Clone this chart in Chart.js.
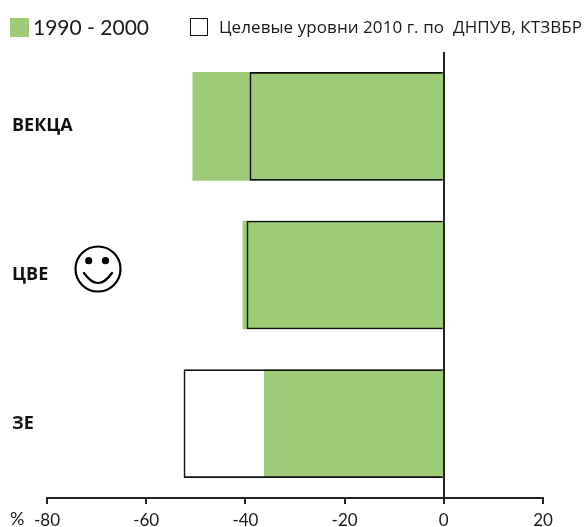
<!DOCTYPE html>
<html lang="ru">
<head>
<meta charset="UTF-8">
<title>Целевые уровни</title>
<style>
    body { margin: 0; background: #fff; }
    #wrap { position: relative; width: 584px; height: 527px; overflow: hidden; }
    canvas { position: absolute; left: 0; top: 0; }
    .txt { position: absolute; color: #1a1a1a; white-space: nowrap; }
    .swatch { position: absolute; box-sizing: border-box; }
</style>
<script src="https://cdn.jsdelivr.net/npm/chart.js"></script>
</head>
<body>
<div id="wrap">
    <canvas id="chart" width="584" height="527"></canvas>
    <div class="swatch" style="left:10px;top:18px;width:19px;height:19px;background:#9dcb78"></div>
    <div class="txt" style="left:33px;top:14px;font:21px Lato,sans-serif">1990 - 2000</div>
    <div class="swatch" style="left:190px;top:18px;width:18px;height:18px;border:1px solid #111"></div>
    <div class="txt" style="left:219px;top:15px;font:17px 'Open Sans',sans-serif;letter-spacing:.07px">Целевые уровни 2010 г. по&nbsp; ДНПУВ, КТЗВБР</div>
    <div class="txt" style="left:10px;top:507px;font:18px Lato,sans-serif">%</div>
    <svg style="position:absolute;left:74px;top:244px" width="50" height="50" viewBox="0 0 50 50">
        <circle cx="24" cy="25" r="22.5" fill="none" stroke="#000" stroke-width="2.2"/>
        <circle cx="14.7" cy="16.7" r="3.6" fill="#000"/>
        <circle cx="31.5" cy="16.7" r="3.6" fill="#000"/>
        <path d="M10 29 Q24 49 38 29" fill="none" stroke="#000" stroke-width="2.2" stroke-linecap="round"/>
    </svg>
</div>
<script>
    const categories = ['ВЕКЦА', 'ЦВЕ', 'ЗЕ'];
    const values1990 = [-50.6, -40.5, -36.2];
    const targets2010 = [-39.1, -39.7, -52.4];
    const xTicks = [-80, -60, -40, -20, 0, 20];

    new Chart(document.getElementById('chart').getContext('2d'), {
        type: 'bar',
        data: {
            labels: categories,
            datasets: [
                {
                    label: '1990 - 2000',
                    data: values1990,
                    backgroundColor: '#9dcb78',
                    borderWidth: 0,
                    order: 2,
                    grouped: false,
                    barThickness: 108
                },
                {
                    label: 'Целевые уровни 2010 г. по  ДНПУВ, КТЗВБР',
                    data: targets2010,
                    backgroundColor: 'transparent',
                    borderColor: '#111',
                    borderWidth: 1,
                    order: 1,
                    grouped: false,
                    barThickness: 108
                }
            ]
        },
        options: {
            indexAxis: 'y',
            responsive: false,
            animation: false,
            layout: { padding: { left: 12, right: 41, top: 52, bottom: 0 } },
            plugins: { legend: { display: false }, tooltip: { enabled: false } },
            scales: {
                x: {
                    min: -80,
                    max: 20,
                    afterBuildTicks: scale => { scale.ticks = xTicks.map(v => ({ value: v })); },
                    afterFit: scale => { scale.height = 29; },
                    // border has to paint after the grid or its position is not known yet
                    border: { color: '#222', width: 2, z: 2 },
                    grid: {
                        z: 1,
                        lineWidth: 2,
                        tickLength: 6,
                        tickColor: '#222',
                        color: ctx => ctx.tick && ctx.tick.value === 0 ? '#222' : 'transparent'
                    },
                    ticks: {
                        autoSkip: false,
                        maxRotation: 0,
                        padding: 6,
                        color: '#1a1a1a',
                        font: { family: 'Lato', size: 17 }
                    }
                },
                y: {
                    afterFit: scale => { scale.width = 35; },
                    border: { display: false },
                    grid: { display: false },
                    ticks: {
                        // mirrored so the long label is not clipped to the axis box
                        mirror: true,
                        padding: -35,
                        color: '#111',
                        font: { family: 'Open Sans', size: 18, weight: 'bold' }
                    }
                }
            }
        }
    });
</script>
</body>
</html>
